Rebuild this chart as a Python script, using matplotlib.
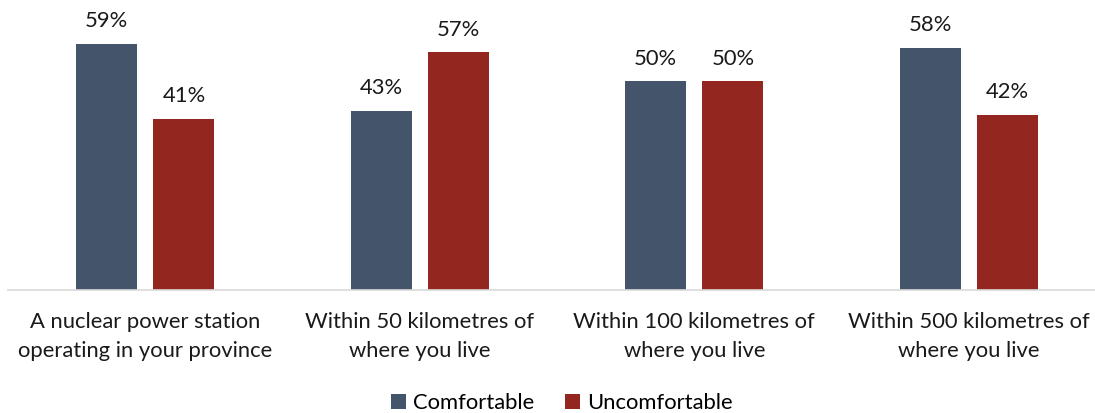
import numpy as np
import matplotlib.pyplot as plt

plt.rcParams['font.family'] = ['Lato', 'DejaVu Sans']

categories = [
    'A nuclear power station\noperating in your province',
    'Within 50 kilometres of\nwhere you live',
    'Within 100 kilometres of\nwhere you live',
    'Within 500 kilometres of\nwhere you live',
]
comfortable = [59, 43, 50, 58]
uncomfortable = [41, 57, 50, 42]

blue = '#44546A'
red = '#93261F'
txt = '#1a1a1a'
fs = 15.8

fig = plt.figure(figsize=(10.95, 4.13), dpi=100)
ax = fig.add_axes([8 / 1095, 123 / 413, 1098 / 1095, 290 / 413])

x = np.arange(len(categories))
w = 0.222
off = 0.141
b1 = ax.bar(x - off, comfortable, w, color=blue, label='Comfortable')
b2 = ax.bar(x + off, uncomfortable, w, color=red, label='Uncomfortable')

for bars, vals in ((b1, comfortable), (b2, uncomfortable)):
    for bar, v in zip(bars, vals):
        ax.text(bar.get_x() + bar.get_width() / 2, v + 3.0, f'{v}%',
                ha='center', va='bottom', fontsize=fs, color=txt)

ax.set_xlim(-0.5, len(categories) - 0.5)
ax.set_ylim(0, 69.5)
ax.set_xticks(x)
ax.set_xticklabels(categories, fontsize=fs, color=txt, linespacing=1.55)
ax.tick_params(axis='x', length=0, pad=16)
ax.set_yticks([])
for side in ('top', 'right', 'left'):
    ax.spines[side].set_visible(False)
ax.spines['bottom'].set_color('#d9d9d9')
ax.spines['bottom'].set_linewidth(1.2)

fig.legend(handles=[b1, b2], loc='lower center', bbox_to_anchor=(0.513, -0.048),
           ncol=2, frameon=False, fontsize=fs, handlelength=0.7,
           handleheight=0.7, handletextpad=0.3, columnspacing=1.4)

fig.savefig('out.png', dpi=100)
